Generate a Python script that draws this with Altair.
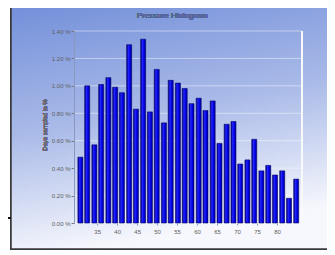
import altair as alt
import pandas as pd

# data
pressure = [30.8, 32.5, 34.3, 36.0, 37.8, 39.5, 41.2, 43.0, 44.7, 46.5, 48.2, 49.9,
            51.7, 53.4, 55.2, 56.9, 58.6, 60.4, 62.1, 63.9, 65.6, 67.4, 69.1, 70.8,
            72.6, 74.3, 76.1, 77.8, 79.5, 81.3, 83.0, 84.8]
share = [0.48, 1.00, 0.57, 1.01, 1.06, 0.99, 0.95, 1.30, 0.83, 1.34, 0.81, 1.12,
         0.73, 1.04, 1.02, 0.98, 0.87, 0.91, 0.82, 0.89, 0.58, 0.72, 0.74, 0.43,
         0.46, 0.61, 0.38, 0.42, 0.35, 0.38, 0.18, 0.32]
x_ticks = [35, 40, 45, 50, 55, 60, 65, 70, 75, 80]
y_ticks = [0.0, 0.2, 0.4, 0.6, 0.8, 1.0, 1.2, 1.4]
title_text = "Pressure Histogram"
y_title = "Days sampled in %"

df = pd.DataFrame({"p": pressure, "v": share})
grid_df = pd.DataFrame({"g": y_ticks})

W, H = 228, 192
FONT = "Liberation Sans"
XS = alt.Scale(domain=[30.45, 85.0], nice=False, zero=False)
YS = alt.Scale(domain=[0, 1.4], nice=False)

Y_AXIS = alt.Axis(values=y_ticks, title=None, grid=False, zindex=1,
                  domain=True, domainColor="#8a98c0",
                  tickSize=3, tickColor="#777777", labelFontSize=6,
                  labelColor="#606060", labelFont=FONT, labelPadding=1,
                  labelOverlap=False,
                  labelExpr="format(datum.value, '.2f') + ' %'")

bg_grad = alt.Gradient(
    gradient="linear", x1=0, y1=0, x2=0.25, y2=1,
    stops=[alt.GradientStop(offset=0, color="#7490da"),
           alt.GradientStop(offset=0.5, color="#a9bae8"),
           alt.GradientStop(offset=1, color="#f7f8fd")])

bar_grad = alt.Gradient(
    gradient="linear", x1=0, y1=0, x2=1, y2=0,
    stops=[alt.GradientStop(offset=0, color="#00007a"),
           alt.GradientStop(offset=0.35, color="#2222ff"),
           alt.GradientStop(offset=0.7, color="#0000e0"),
           alt.GradientStop(offset=1, color="#000090")])

base = alt.Chart(df)

background = base.mark_rect(fill=bg_grad, stroke="#3a3a3a", strokeWidth=1.5, clip=False).encode(
    x=alt.value(-63), x2=alt.value(275), y=alt.value(-24), y2=alt.value(218)
)

side_line = base.mark_rule(color="#111111", strokeWidth=1.5, clip=False).encode(
    x=alt.value(-80), x2=alt.value(-63), y=alt.value(187)
)

grid = alt.Chart(grid_df).mark_rule(color="#ffffff", opacity=0.45, strokeWidth=1).encode(
    y=alt.Y("g:Q", scale=YS, axis=Y_AXIS), x=alt.value(0), x2=alt.value(W)
)

right_edge = base.mark_rule(color="#ffffff", strokeWidth=1, opacity=0.25).encode(
    x=alt.value(W), y=alt.value(0), y2=alt.value(H)
)

bars = base.mark_bar(fill=bar_grad, stroke="#000066", strokeWidth=0.6, size=5, clip=False).encode(
    x=alt.X("p:Q", scale=XS,
            axis=alt.Axis(values=x_ticks, title=None, grid=False, domain=False, zindex=1,
                          tickSize=2, tickColor="#8899bb", labelFontSize=6,
                          labelColor="#606060", labelFont=FONT, labelPadding=3,
                          labelOverlap=False)),
    y=alt.Y("v:Q", scale=YS, axis=Y_AXIS),
)

title = base.mark_text(fontSize=8, color="#56679a", font=FONT, clip=False).encode(
    x=alt.value(98), y=alt.value(-15), text=alt.value(title_text)
)

ytitle = base.mark_text(fontSize=6, color="#6a6a78", font=FONT, angle=270, clip=False).encode(
    x=alt.value(-29), y=alt.value(94), text=alt.value(y_title)
)

chart = alt.layer(background, side_line, grid, right_edge, bars, title, ytitle).properties(
    width=W, height=H,
    autosize=alt.AutoSizeParams(type="none"),
    padding={"left": 66, "top": 23, "right": 25, "bottom": 32},
).configure_view(stroke=None).configure(background="white")

chart.save("out.html", embed_options={"renderer": "svg", "actions": False})
